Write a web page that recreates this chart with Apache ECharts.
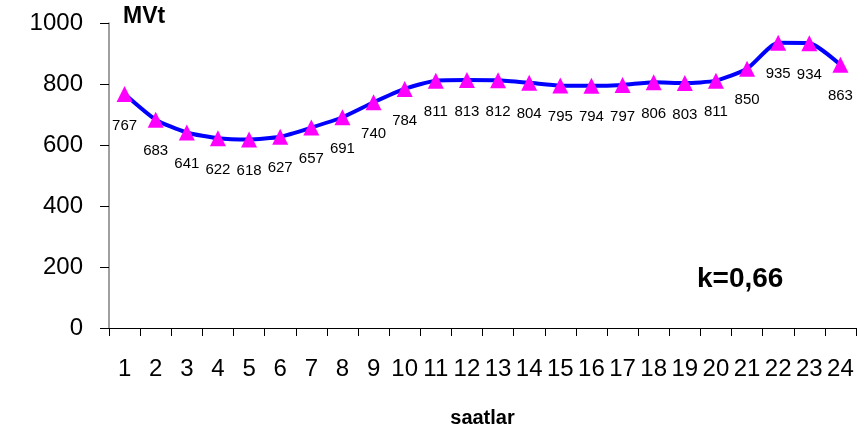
<!DOCTYPE html>
<html>
<head>
<meta charset="utf-8">
<script src="https://cdn.jsdelivr.net/npm/echarts@6/dist/echarts.min.js"></script>
<style>
  html, body { margin: 0; padding: 0; background: #fff; }
  #chart { width: 868px; height: 433px; }
</style>
</head>
<body>
<div id="chart"></div>
<script>
  const hours = ['1','2','3','4','5','6','7','8','9','10','11','12','13','14','15','16','17','18','19','20','21','22','23','24'];
  const load = [767, 683, 641, 622, 618, 627, 657, 691, 740, 784, 811, 813, 812, 804, 795, 794, 797, 806, 803, 811, 850, 935, 934, 863];
  const yTicks = [0, 200, 400, 600, 800, 1000];

  const chart = echarts.init(document.getElementById('chart'), null, { renderer: 'canvas' });
  const font = 'Arial, "Liberation Sans", sans-serif';

  chart.setOption({
    animation: false,
    grid: { left: 109, right: 12, top: 23, bottom: 102, containLabel: false },
    xAxis: {
      type: 'category',
      data: hours,
      boundaryGap: true,
      name: 'saatlar',
      nameLocation: 'middle',
      nameGap: 80,
      nameTextStyle: { fontFamily: font, fontSize: 20, fontWeight: 'bold', color: '#000' },
      axisLine: { lineStyle: { color: '#000', width: 1 } },
      axisTick: { show: true, length: 8, alignWithLabel: false, lineStyle: { color: '#000' } },
      axisLabel: { fontFamily: font, fontSize: 24, color: '#000', margin: 29, interval: 0 },
      splitLine: { show: false }
    },
    yAxis: {
      type: 'value',
      min: yTicks[0],
      max: yTicks[yTicks.length - 1],
      interval: 200,
      axisLine: { show: true, lineStyle: { color: '#808080', width: 1.5 } },
      axisTick: { show: true, length: 9, lineStyle: { color: '#000' } },
      axisLabel: { fontFamily: font, fontSize: 24, color: '#000', margin: 26, formatter: (v) => String(v) },
      splitLine: { show: false }
    },
    graphic: [
      { type: 'text', x: 123, y: 17, style: { text: 'MVt', font: 'bold 23px ' + font, fill: '#000', textVerticalAlign: 'middle' } },
      { type: 'text', x: 697, y: 279, style: { text: 'k=0,66', font: 'bold 28px ' + font, fill: '#000', textVerticalAlign: 'middle' } }
    ],
    series: [{
      type: 'line',
      data: load,
      smooth: 0.2,
      symbol: 'triangle',
      symbolSize: 16,
      lineStyle: { color: '#0000FF', width: 4 },
      itemStyle: { color: '#FF00FF' },
      label: {
        show: true,
        position: 'bottom',
        distance: 16,
        fontFamily: font,
        fontSize: 15,
        color: '#000'
      }
    }]
  });
</script>
</body>
</html>
